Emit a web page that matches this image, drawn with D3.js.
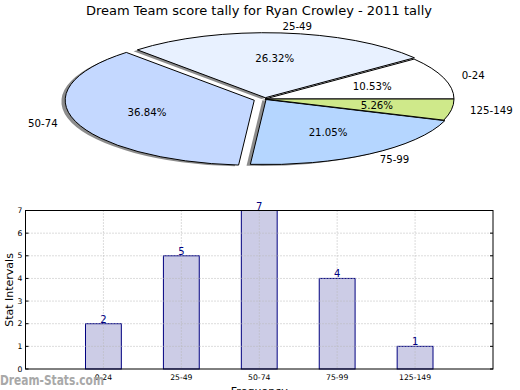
<!DOCTYPE html>
<html>
<head>
<meta charset="utf-8">
<script src="https://cdn.jsdelivr.net/npm/d3@7"></script>
<style>
  body { margin: 0; background: #fff; }
  svg { display: block; font-family: "DejaVu Sans", sans-serif; }
</style>
</head>
<body>
<div id="chart"></div>
<script>
// score intervals and how many games fell in each
const categories = ["0-24", "25-49", "50-74", "75-99", "125-149"];
const counts = [2, 5, 7, 4, 1];
const pieColors = ["#ffffff", "#e8f1ff", "#c4d8ff", "#b5d6ff", "#cfe98a"];
const explode = [0, 0.02, 0.06, 0.01, 0];
const yTicks = [0, 1, 2, 3, 4, 5, 6, 7];

const W = 520, H = 390;
const svg = d3.select("#chart").append("svg")
  .attr("width", W)
  .attr("height", H);

// Title
svg.append("text")
  .attr("x", 259)
  .attr("y", 15)
  .attr("text-anchor", "middle")
  .style("font-size", "13px")
  .text("Dream Team score tally for Ryan Crowley - 2011 tally");

// ---- Pie (drawn on a unit circle, squashed into an ellipse) ----
const cx = 265, cy = 99, rx = 189, ry = 65;
const total = d3.sum(counts);

// counter-clockwise from 3 o'clock, like matplotlib
const pie = d3.pie().sort(null).startAngle(Math.PI / 2).endAngle(Math.PI / 2 - 2 * Math.PI);
const slices = pie(counts);
const arc = d3.arc().innerRadius(0).outerRadius(1);

// d3 angle -> offset on the ellipse
function pt(a, r) {
  return [Math.sin(a) * r * rx, -Math.cos(a) * r * ry];
}

const pieG = svg.append("g");

// shadows first, under everything
pieG.selectAll("path.shadow")
  .data(slices)
  .enter().append("path")
    .attr("class", "shadow")
    .attr("d", arc)
    .attr("transform", (d, i) => {
      let mid = (d.startAngle + d.endAngle) / 2;
      let o = pt(mid, explode[i]);
      return `translate(${cx + o[0] - 3.8},${cy + o[1] + 1.3}) scale(${rx},${ry})`;
    })
    .style("fill", "#000")
    .style("opacity", 0.45);

pieG.selectAll("path.wedge")
  .data(slices)
  .enter().append("path")
    .attr("class", "wedge")
    .attr("d", arc)
    .attr("transform", (d, i) => {
      let mid = (d.startAngle + d.endAngle) / 2;
      let o = pt(mid, explode[i]);
      return `translate(${cx + o[0]},${cy + o[1]}) scale(${rx},${ry})`;
    })
    .attr("vector-effect", "non-scaling-stroke")
    .style("fill", (d, i) => pieColors[i])
    .style("stroke", "#000")
    .style("stroke-width", 1)
    .style("stroke-linejoin", "round");

// category labels outside, percentages inside
slices.forEach((d, i) => {
  let mid = (d.startAngle + d.endAngle) / 2;
  let o = pt(mid, explode[i]);
  let lp = pt(mid, 1.1);
  let pp = pt(mid, 0.6);
  svg.append("text")
    .attr("x", cx + o[0] + lp[0])
    .attr("y", cy + o[1] + lp[1])
    .attr("dy", "0.35em")
    .attr("text-anchor", lp[0] > 0 ? "start" : "end")
    .style("font-size", "10.2px")
    .text(categories[i]);
  svg.append("text")
    .attr("x", cx + o[0] + pp[0])
    .attr("y", cy + o[1] + pp[1])
    .attr("dy", "0.35em")
    .attr("text-anchor", "middle")
    .style("font-size", "10.2px")
    .text((100 * counts[i] / total).toFixed(2) + "%");
});

// ---- Bar chart ----
const margin = {top: 210.5, left: 25.5, right: 27, bottom: 21};
const width = W - margin.left - margin.right;
const height = H - margin.top - margin.bottom;

const x = d3.scaleLinear().domain([-1, 5]).range([0, width]);
const y = d3.scaleLinear().domain([0, 7]).range([height, 0]);
const barW = 0.46;

const g = svg.append("g")
  .attr("transform", "translate(" + margin.left + "," + margin.top + ")");

g.selectAll("rect.bar")
  .data(counts)
  .enter().append("rect")
    .attr("class", "bar")
    .attr("x", (d, i) => x(i - barW / 2))
    .attr("width", x(barW) - x(0))
    .attr("y", d => y(d))
    .attr("height", d => height - y(d))
    .style("fill", "#ccccE6")
    .style("stroke", "#000080")
    .style("stroke-width", 1);

// grid on top of the bars
g.selectAll("line.hgrid")
  .data(yTicks.slice(1, -1))
  .enter().append("line")
    .attr("x1", 0).attr("x2", width)
    .attr("y1", d => y(d)).attr("y2", d => y(d))
    .style("stroke", "#b8b8b8")
    .style("stroke-dasharray", "1,2");

g.selectAll("line.vgrid")
  .data(categories)
  .enter().append("line")
    .attr("x1", (d, i) => x(i)).attr("x2", (d, i) => x(i))
    .attr("y1", 0).attr("y2", height)
    .style("stroke", "#b8b8b8")
    .style("stroke-dasharray", "1,2");

// value labels
g.selectAll("text.val")
  .data(counts)
  .enter().append("text")
    .attr("x", (d, i) => x(i))
    .attr("y", d => y(d) - 1)
    .attr("text-anchor", "middle")
    .style("font-size", "10px")
    .style("fill", "#000080")
    .text(d => d);

// frame
g.append("rect")
  .attr("width", width)
  .attr("height", height)
  .style("fill", "none")
  .style("stroke", "#000")
  .style("stroke-width", 1);

// y ticks (inward, both sides) and labels
const yAxis = g.append("g");
yTicks.forEach(t => {
  yAxis.append("line").attr("x1", 0).attr("x2", 3).attr("y1", y(t)).attr("y2", y(t)).style("stroke", "#000");
  yAxis.append("line").attr("x1", width - 3).attr("x2", width).attr("y1", y(t)).attr("y2", y(t)).style("stroke", "#000");
  yAxis.append("text")
    .attr("x", -3)
    .attr("y", y(t))
    .attr("dy", "0.35em")
    .attr("text-anchor", "end")
    .style("font-size", "7.7px")
    .text(t);
});

// x tick labels
categories.forEach((c, i) => {
  g.append("text")
    .attr("x", x(i))
    .attr("y", height + 11)
    .attr("text-anchor", "middle")
    .style("font-size", "7.7px")
    .text(c);
});

// axis titles
svg.append("text")
  .attr("x", margin.left + width / 2)
  .attr("y", 395)
  .attr("text-anchor", "middle")
  .style("font-size", "11px")
  .text("Frequency");

svg.append("text")
  .attr("transform", "translate(13,290) rotate(-90)")
  .attr("text-anchor", "middle")
  .style("font-size", "11px")
  .text("Stat Intervals");

// watermark
svg.append("text")
  .attr("x", 0)
  .attr("y", 385)
  .attr("textLength", 104)
  .attr("lengthAdjust", "spacingAndGlyphs")
  .style("font-size", "14px")
  .style("font-weight", "bold")
  .style("fill", "#a8a8a8")
  .text("Dream-Stats.com");
</script>
</body>
</html>
